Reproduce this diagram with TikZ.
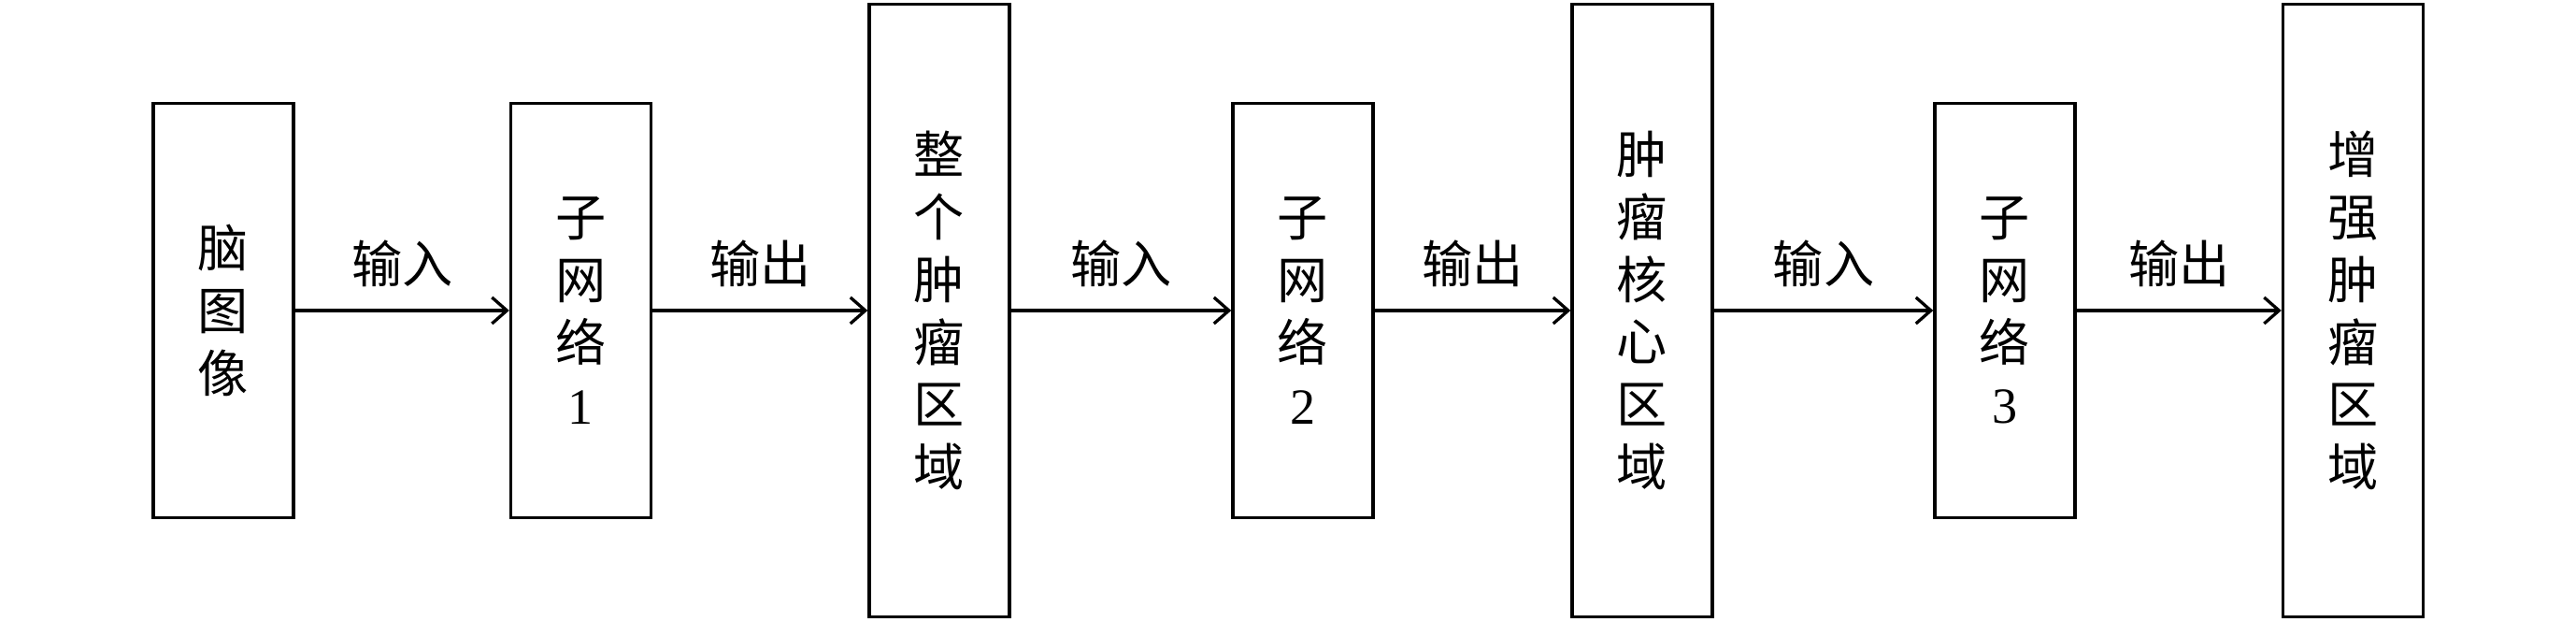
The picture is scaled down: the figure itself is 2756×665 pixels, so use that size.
\documentclass[tikz,border=0pt]{standalone}
\usepackage{fontspec}
\setmainfont{Liberation Serif}
\newfontfamily\cjk{Noto Sans CJK SC}
\usetikzlibrary{arrows.meta}
\tikzset{
  every picture/.style={line width=0.033cm},
  boxs/.style={draw, line width=0.033cm, minimum width=1.5cm, minimum height=4.43cm, inner sep=0pt,
    align=center, font=\cjk\fontsize{15.4pt}{19pt}\selectfont},
  boxl/.style={boxs, minimum height=6.54cm},
  arr/.style={-{Straight Barb[length=0.16cm,width=0.28cm,line width=0.033cm]}, line width=0.035cm},
  lbl/.style={midway, yshift=0.5cm, inner sep=0pt, font=\cjk\fontsize{15.4pt}{19pt}\selectfont}
}
\begin{document}
\begin{tikzpicture}[x=0.01cm,y=-0.01cm]
\useasboundingbox (0,0) rectangle (2756,665);
\node[boxs] (b1) at (239,332) {脑\\图\\像};
\node[boxs] (b2) at (621.5,332) {子\\网\\络\\{\rmfamily 1}};
\node[boxl] (b3) at (1005,332) {整\\个\\肿\\瘤\\区\\域};
\node[boxs] (b4) at (1394,332) {子\\网\\络\\{\rmfamily 2}};
\node[boxl] (b5) at (1757,332) {肿\\瘤\\核\\心\\区\\域};
\node[boxs] (b6) at (2145,332) {子\\网\\络\\{\rmfamily 3}};
\node[boxl] (b7) at (2517.5,332) {增\\强\\肿\\瘤\\区\\域};
\draw[arr] (b1) -- node[lbl] (l1) {输入} (b2);
\draw[arr] (b2) -- node[lbl] (l2) {输出} (b3);
\draw[arr] (b3) -- node[lbl] (l3) {输入} (b4);
\draw[arr] (b4) -- node[lbl] (l4) {输出} (b5);
\draw[arr] (b5) -- node[lbl] (l5) {输入} (b6);
\draw[arr] (b6) -- node[lbl] (l6) {输出} (b7);
\end{tikzpicture}
\end{document}
